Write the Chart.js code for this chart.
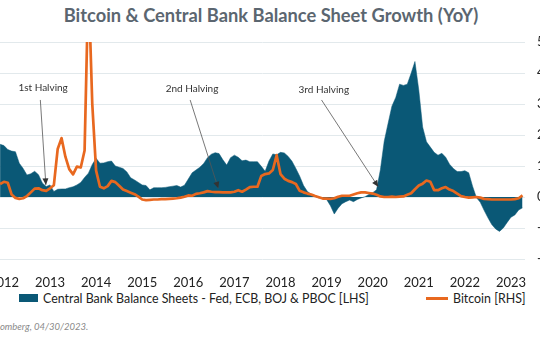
<!DOCTYPE html>
<html><head><meta charset="utf-8">
<script src="https://cdn.jsdelivr.net/npm/chart.js@4.4.0/dist/chart.umd.min.js"></script>
<style>
html,body{margin:0;padding:0;background:#fff;}
#wrap{position:relative;width:540px;height:340px;overflow:hidden;background:#fff;}
#title{position:absolute;left:0;top:4px;width:542px;text-align:center;font:700 18.3px Lato, sans-serif;color:#5b6670;white-space:nowrap;}
#c{position:absolute;left:0;top:0;}
.leg{position:absolute;top:290px;height:16px;font:12.4px Lato, sans-serif;color:#222;white-space:nowrap;display:flex;align-items:center;}
.sw{display:inline-block;margin-right:5px;}
#foot{position:absolute;left:-44px;top:321px;font:italic 9.5px Lato, sans-serif;color:#8a8a8a;white-space:nowrap;}
</style></head>
<body>
<div id="wrap">
  <div id="title">Bitcoin &amp; Central Bank Balance Sheet Growth (YoY)</div>
  <canvas id="c" width="585" height="290"></canvas>
  <div class="leg" id="leg0" style="left:19px"></div>
  <div class="leg" id="leg1" style="left:426px"></div>
  <div id="foot">Source: Bloomberg, 04/30/2023.</div>
</div>
<script>
// ---- data (monthly, Dec 2011 .. Apr 2023) ----
const months = [
 '2011-12',
 '2012-01','2012-02','2012-03','2012-04','2012-05','2012-06','2012-07','2012-08','2012-09','2012-10','2012-11','2012-12',
 '2013-01','2013-02','2013-03','2013-04','2013-05','2013-06','2013-07','2013-08','2013-09','2013-10','2013-11','2013-12',
 '2014-01','2014-02','2014-03','2014-04','2014-05','2014-06','2014-07','2014-08','2014-09','2014-10','2014-11','2014-12',
 '2015-01','2015-02','2015-03','2015-04','2015-05','2015-06','2015-07','2015-08','2015-09','2015-10','2015-11','2015-12',
 '2016-01','2016-02','2016-03','2016-04','2016-05','2016-06','2016-07','2016-08','2016-09','2016-10','2016-11','2016-12',
 '2017-01','2017-02','2017-03','2017-04','2017-05','2017-06','2017-07','2017-08','2017-09','2017-10','2017-11','2017-12',
 '2018-01','2018-02','2018-03','2018-04','2018-05','2018-06','2018-07','2018-08','2018-09','2018-10','2018-11','2018-12',
 '2019-01','2019-02','2019-03','2019-04','2019-05','2019-06','2019-07','2019-08','2019-09','2019-10','2019-11','2019-12',
 '2020-01','2020-02','2020-03','2020-04','2020-05','2020-06','2020-07','2020-08','2020-09','2020-10','2020-11','2020-12',
 '2021-01','2021-02','2021-03','2021-04','2021-05','2021-06','2021-07','2021-08','2021-09','2021-10','2021-11','2021-12',
 '2022-01','2022-02','2022-03','2022-04','2022-05','2022-06','2022-07','2022-08','2022-09','2022-10','2022-11','2022-12',
 '2023-01','2023-02','2023-03','2023-04'
];
// Central bank balance sheets YoY growth, % (left axis)
const centralBankGrowth = [
 17.0,
 16.6, 15.3, 14.8, 14.6, 10.9, 9.2, 7.1, 7.5, 8.3, 7.2, 4.5, 3.4,
 3.9, 1.8, 2.5, 2.6, 2.6, 3.0, 3.3, 3.9, 4.7, 6.3, 7.7, 10.5,
 12.5, 10.9, 11.0, 11.4, 11.6, 10.0, 9.6, 9.2, 8.1, 6.2, 5.5, 4.7,
 3.9, 3.7, 2.3, 3.0, 3.0, 3.0, 3.1, 3.3, 3.5, 3.7, 3.2, 3.8,
 5.8, 7.8, 8.7, 9.6, 10.8, 12.7, 13.8, 14.3, 14.0, 12.0, 10.3, 12.7,
 13.5, 12.8, 11.7, 11.9, 11.4, 11.4, 11.4, 9.9, 8.3, 11.6, 13.9, 13.6,
 14.4, 14.2, 13.1, 11.5, 9.2, 6.7, 3.7, 1.8, 0.9, 0.2, -0.3, -0.3,
 -0.8, -2.8, -5.5, -3.6, -2.2, -1.5, -1.0, -1.5, -0.8, -0.3, 0.1, 0.8,
 1.4, 2.3, 8.8, 18.0, 23.7, 29.3, 32.1, 36.4, 36.0, 36.4, 39.9, 43.7,
 34.5, 22.6, 17.8, 16.1, 14.4, 13.5, 14.1, 12.8, 10.6, 9.2, 8.2, 8.2,
 8.5, 7.8, 3.5, -0.2, -1.7, -4.3, -6.7, -8.9, -10.3, -11.1, -10.0, -8.2,
 -6.5, -5.8, -4.2, -3.5
];
// Bitcoin YoY growth, % (right axis)
const bitcoinGrowth = [
 420,
 490, 460, 80, -30, -60, -40, 30, 150, 270, 280, 220, 200,
 280, 380, 1550, 1900, 1300, 900, 730, 980, 950, 1500, 7000, 3000,
 850, 330, 280, 350, 520, 480, 360, 240, 190, 140, 90, 10,
 -80, -100, -90, -80, -80, -70, -70, -60, -50, -40, -20, 10,
 50, 40, 100, 120, 150, 190, 170, 160, 160, 150, 150, 150,
 170, 220, 170, 240, 320, 330, 330, 680, 740, 760, 870, 1350,
 740, 590, 520, 480, 420, 200, 150, 110, 80, 30, -10, -50,
 -50, -60, -40, 10, 40, 40, 40, 80, 120, 150, 150, 130,
 110, 70, 20, 0, 0, 10, 0, 10, 20, 70, 120, 250,
 370, 430, 530, 490, 220, 220, 280, 320, 240, 190, 110, 30,
 0, -20, -10, 0, -20, -60, -70, -80, -80, -80, -80, -80,
 -80, -70, -40, 50
];
const yearTicks = [2012, 2013, 2014, 2015, 2016, 2017, 2018, 2019, 2020, 2021, 2022, 2023];
const rightTicks = [-2000, -1000, 0, 1000, 2000, 3000, 4000, 5000];
const seriesNames = ['Central Bank Balance Sheets - Fed, ECB, BOJ & PBOC [LHS]', 'Bitcoin [RHS]'];
const halvingEvents = [
 {text: '1st Halving', label: [2012.85, 3520], from: [2012.79, 3130], to: [2012.91, 390]},
 {text: '2nd Halving', label: [2016.08, 3490], from: [2016.04, 3130], to: [2016.65, 280]},
 {text: '3rd Halving', label: [2018.94, 3450], from: [2018.89, 3130], to: [2020.12, 330]}
];

const BLUE = '#0a5876', ORANGE = '#e8681f';
const toYear = s => { const [y, m] = s.split('-').map(Number); return y + (m - 1) / 12; };
const cbPts = months.map((m, i) => ({x: toYear(m), y: centralBankGrowth[i]}));
const btcPts = months.map((m, i) => ({x: toYear(m), y: bitcoinGrowth[i]}));

const halvingPlugin = {
  id: 'halvings',
  afterDatasetsDraw(chart) {
    const {ctx, scales} = chart; const x = scales.x, y = scales.yR;
    ctx.save();
    halvingEvents.forEach(h => {
      const x0 = x.getPixelForValue(h.from[0]), y0 = y.getPixelForValue(h.from[1]);
      const x1 = x.getPixelForValue(h.to[0]), y1 = y.getPixelForValue(h.to[1]);
      ctx.strokeStyle = '#555'; ctx.lineWidth = 0.8;
      ctx.beginPath(); ctx.moveTo(x0, y0); ctx.lineTo(x1, y1); ctx.stroke();
      const a = Math.atan2(y1 - y0, x1 - x0), L = 6.5, W = 3;
      ctx.fillStyle = '#333';
      ctx.beginPath();
      ctx.moveTo(x1, y1);
      ctx.lineTo(x1 - L * Math.cos(a) + W * Math.sin(a), y1 - L * Math.sin(a) - W * Math.cos(a));
      ctx.lineTo(x1 - L * Math.cos(a) - W * Math.sin(a), y1 - L * Math.sin(a) + W * Math.cos(a));
      ctx.closePath(); ctx.fill();
      ctx.font = '10px Lato, sans-serif'; ctx.fillStyle = '#333';
      ctx.textAlign = 'center'; ctx.textBaseline = 'middle';
      ctx.fillText(h.text, x.getPixelForValue(h.label[0]), y.getPixelForValue(h.label[1]));
    });
    ctx.restore();
  }
};

new Chart(document.getElementById('c'), {
  type: 'line',
  data: {datasets: [
    {label: seriesNames[0], data: cbPts, yAxisID: 'yL', fill: 'origin', backgroundColor: BLUE,
     borderColor: BLUE, borderWidth: 0.5, pointRadius: 0, tension: 0, order: 2},
    {label: seriesNames[1], data: btcPts, yAxisID: 'yR', fill: false, borderColor: ORANGE,
     borderWidth: 2.7, pointRadius: 0, tension: 0, order: 1, borderJoinStyle: 'round'}
  ]},
  options: {
    responsive: false, animation: false, devicePixelRatio: 1,
    layout: {padding: {top: 42, left: 0, right: 0, bottom: 0}},
    plugins: {legend: {display: false}, tooltip: {enabled: false}, title: {display: false}},
    scales: {
      x: {type: 'linear', min: 2011.915, max: 2023.304,
          grid: {display: false}, border: {display: false},
          afterBuildTicks: s => { s.ticks = yearTicks.map(v => ({value: v})); },
          afterFit: s => { s.height = 31; s.paddingLeft = 0; s.paddingRight = 0; },
          ticks: {autoSkip: false, maxRotation: 0, padding: 8, color: '#222',
                  font: {family: 'Lato, sans-serif', size: 13}, callback: v => String(v)}},
      yL: {position: 'left', display: false, min: -20, max: 50},
      yR: {position: 'right', min: -2000, max: 5000,
           grid: {color: '#e2e9ec', lineWidth: 1, drawTicks: false}, border: {display: false},
           afterBuildTicks: s => { s.ticks = rightTicks.map(v => ({value: v})); },
           afterFit: s => { s.width = 60; },
           ticks: {padding: 12, color: '#222', font: {family: 'Lato, sans-serif', size: 13},
                   callback: v => v.toLocaleString('en-US') + '%'}}
    }
  },
  plugins: [halvingPlugin]
});

// legend (HTML, built from series names)
const l0 = document.getElementById('leg0'), l1 = document.getElementById('leg1');
l0.innerHTML = '<span class="sw" style="width:19px;height:8px;background:' + BLUE + '"></span>';
l0.appendChild(document.createTextNode(seriesNames[0]));
l1.innerHTML = '<span class="sw" style="width:22px;height:3px;background:' + ORANGE + '"></span>';
l1.appendChild(document.createTextNode(seriesNames[1]));
</script>
</body></html>
